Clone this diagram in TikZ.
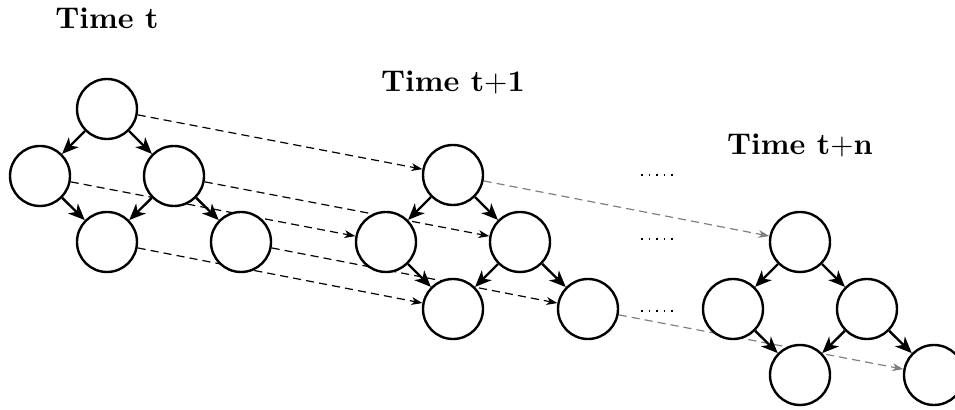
\documentclass[tikz,border=0pt]{standalone}
\usetikzlibrary{arrows.meta,backgrounds}
\begin{document}
\begin{tikzpicture}[x=0.33333pt,y=-0.33333pt,
  state/.style={circle,draw,line width=0.8pt,fill=white,minimum size=20pt,inner sep=0pt},
  tree/.style={line width=0.8pt,-{Stealth[length=5.5pt,width=4.6pt,inset=1.6pt]}},
  link/.style={line width=0.4pt,dash pattern=on 2.7pt off 1.7pt,-{Stealth[length=3.6pt,width=2.6pt,inset=1pt]}},
  faint/.style={link,draw=black!50},
  more/.style={line width=0.5pt,dotted},
  title/.style={anchor=base,font=\bfseries,inner sep=0pt}]
\useasboundingbox (0,0) rectangle (955,410);
% Time t
\node[state] (a1) at (107,109) {};
\node[state] (a2) at (40,176) {};
\node[state] (a3) at (174,176) {};
\node[state] (a4) at (107,242) {};
\node[state] (a5) at (241,242) {};
% Time t+1
\node[state] (b1) at (453,175) {};
\node[state] (b2) at (386,242) {};
\node[state] (b3) at (520,242) {};
\node[state] (b4) at (453,309) {};
\node[state] (b5) at (588,309) {};
% Time t+n
\node[state] (c1) at (800,242) {};
\node[state] (c2) at (733,309) {};
\node[state] (c3) at (867,309) {};
\node[state] (c4) at (800,375) {};
\node[state] (c5) at (934,375) {};
% titles
\node[title] (ta) at (107,29) {Time t};
\node[title] (tb) at (453,92) {Time t$+$1};
\node[title] (tc) at (800,155) {Time t$+$n};
% tree edges
\foreach \t in {a,b,c}{
  \draw[tree] (\t1) -- (\t2);
  \draw[tree] (\t1) -- (\t3);
  \draw[tree] (\t2) -- (\t4);
  \draw[tree] (\t3) -- (\t4);
  \draw[tree] (\t3) -- (\t5);
}
% temporal links behind the nodes
\begin{pgfonlayer}{background}
\foreach \i in {1,...,5}{
  \draw[link] (a\i) -- (b\i);
}
\draw[faint] (b1) -- (c1);
\draw[faint] (b5) -- (c5);
\end{pgfonlayer}
% continuation dots
\coordinate (d1a) at (641,175); \coordinate (d1b) at (673,175);
\coordinate (d2a) at (641,239); \coordinate (d2b) at (673,239);
\coordinate (d3a) at (641,311); \coordinate (d3b) at (673,311);
\draw[more] (d1a) -- (d1b);
\draw[more] (d2a) -- (d2b);
\draw[more] (d3a) -- (d3b);
\end{tikzpicture}
\end{document}
